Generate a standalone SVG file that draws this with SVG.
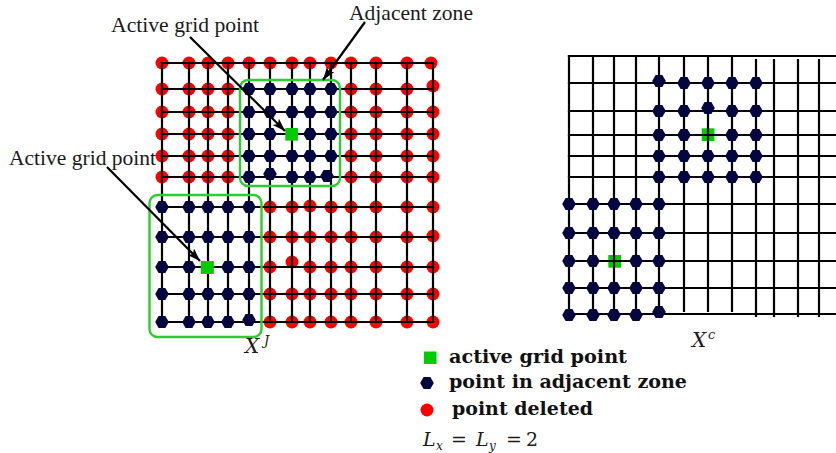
<svg xmlns="http://www.w3.org/2000/svg" xmlns:xlink="http://www.w3.org/1999/xlink" width="836" height="453" viewBox="0 0 836 453">
<style>
.grid line{stroke:#000;stroke-width:2.2;stroke-linecap:square}
.zone{fill:none;stroke:#2ecc2e;stroke-width:2.4}
.lbl{font-family:"Liberation Serif","DejaVu Serif",serif;font-size:21px;fill:#1a1a1a}
.leg{font-family:"DejaVu Serif","Liberation Serif",serif;font-size:19px;font-weight:bold;fill:#111}
.math{font-family:"DejaVu Serif","Liberation Serif",serif;font-style:italic;fill:#1a1a1a}
.arrow{stroke:#000;stroke-width:2.2;fill:none}
.act{fill:#00cc00}
</style>
<defs>
<circle id="r" r="6.5" fill="#ff0000"/>
<polygon id="h" points="6.8,0 3.4,5.9 -3.4,5.9 -6.8,0 -3.4,-5.9 3.4,-5.9" fill="#06063f"/>
<marker id="ah" markerUnits="userSpaceOnUse" markerWidth="14" markerHeight="10" refX="13" refY="4.5" orient="auto">
<path d="M0,0 L13,4.5 L0,9 L3,4.5 z" fill="#000"/>
</marker>
</defs>

<!-- Left grid X^J -->
<g id="left-deleted">
<use href="#r" x="162" y="63"/><use href="#r" x="189" y="63"/><use href="#r" x="208" y="63"/><use href="#r" x="228" y="63"/><use href="#r" x="249" y="63"/><use href="#r" x="270" y="63"/><use href="#r" x="292" y="63"/><use href="#r" x="310" y="63"/><use href="#r" x="331" y="63"/><use href="#r" x="351" y="63"/><use href="#r" x="376" y="63"/><use href="#r" x="407" y="63"/><use href="#r" x="431" y="63"/>
<use href="#r" x="162" y="89"/><use href="#r" x="189" y="89"/><use href="#r" x="208" y="89"/><use href="#r" x="228" y="89"/><use href="#r" x="351" y="89"/><use href="#r" x="376" y="89"/><use href="#r" x="407" y="89"/><use href="#r" x="433" y="86"/>
<use href="#r" x="162" y="112"/><use href="#r" x="189" y="112"/><use href="#r" x="208" y="112"/><use href="#r" x="228" y="112"/><use href="#r" x="351" y="112"/><use href="#r" x="376" y="112"/><use href="#r" x="407" y="112"/><use href="#r" x="433" y="112"/>
<use href="#r" x="162" y="134"/><use href="#r" x="189" y="134"/><use href="#r" x="208" y="134"/><use href="#r" x="228" y="134"/><use href="#r" x="351" y="134"/><use href="#r" x="376" y="134"/><use href="#r" x="407" y="134"/><use href="#r" x="433" y="134"/>
<use href="#r" x="162" y="156"/><use href="#r" x="189" y="156"/><use href="#r" x="208" y="156"/><use href="#r" x="228" y="156"/><use href="#r" x="351" y="156"/><use href="#r" x="376" y="156"/><use href="#r" x="407" y="156"/><use href="#r" x="433" y="156"/>
<use href="#r" x="162" y="177"/><use href="#r" x="189" y="177"/><use href="#r" x="208" y="177"/><use href="#r" x="228" y="177"/><use href="#r" x="351" y="177"/><use href="#r" x="376" y="177"/><use href="#r" x="407" y="177"/><use href="#r" x="433" y="177"/>
<use href="#r" x="270" y="207"/><use href="#r" x="292" y="207"/><use href="#r" x="310" y="206"/><use href="#r" x="331" y="207"/><use href="#r" x="351" y="207"/><use href="#r" x="376" y="207"/><use href="#r" x="407" y="207"/><use href="#r" x="433" y="207"/>
<use href="#r" x="270" y="237"/><use href="#r" x="292" y="237"/><use href="#r" x="310" y="237"/><use href="#r" x="331" y="237"/><use href="#r" x="351" y="237"/><use href="#r" x="376" y="237"/><use href="#r" x="407" y="237"/><use href="#r" x="433" y="236"/>
<use href="#r" x="270" y="267"/><use href="#r" x="292" y="262"/><use href="#r" x="310" y="267"/><use href="#r" x="331" y="267"/><use href="#r" x="351" y="267"/><use href="#r" x="376" y="267"/><use href="#r" x="407" y="267"/><use href="#r" x="433" y="267"/>
<use href="#r" x="270" y="294"/><use href="#r" x="292" y="294"/><use href="#r" x="310" y="294"/><use href="#r" x="331" y="294"/><use href="#r" x="351" y="294"/><use href="#r" x="376" y="294"/><use href="#r" x="407" y="294"/><use href="#r" x="433" y="294"/>
<use href="#r" x="270" y="322"/><use href="#r" x="292" y="322"/><use href="#r" x="310" y="322"/><use href="#r" x="331" y="322"/><use href="#r" x="351" y="322"/><use href="#r" x="376" y="322"/><use href="#r" x="407" y="322"/><use href="#r" x="433" y="322"/>
</g>

<g id="left-grid" class="grid">
<line x1="162" y1="63" x2="433" y2="63"/><line x1="162" y1="89" x2="433" y2="89"/><line x1="162" y1="112" x2="433" y2="112"/><line x1="162" y1="134" x2="433" y2="134"/><line x1="162" y1="156" x2="433" y2="156"/><line x1="162" y1="177" x2="433" y2="177"/><line x1="162" y1="207" x2="433" y2="207"/><line x1="162" y1="237" x2="433" y2="237"/><line x1="162" y1="267" x2="433" y2="267"/><line x1="162" y1="294" x2="433" y2="294"/><line x1="162" y1="322" x2="433" y2="322"/>
<line x1="162" y1="63" x2="162" y2="322"/><line x1="189" y1="63" x2="189" y2="322"/><line x1="208" y1="63" x2="208" y2="322"/><line x1="228" y1="63" x2="228" y2="322"/><line x1="249" y1="63" x2="249" y2="322"/><line x1="270" y1="63" x2="270" y2="322"/><line x1="292" y1="63" x2="292" y2="322"/><line x1="310" y1="63" x2="310" y2="322"/><line x1="331" y1="63" x2="331" y2="322"/><line x1="351" y1="63" x2="351" y2="322"/><line x1="376" y1="63" x2="376" y2="322"/><line x1="407" y1="63" x2="407" y2="322"/><line x1="433" y1="63" x2="433" y2="322"/>
</g>

<g id="left-zone-top">
<rect class="zone" x="240" y="80" width="100" height="106" rx="8"/>
<use href="#h" x="249" y="89"/><use href="#h" x="270" y="89"/><use href="#h" x="292" y="89"/><use href="#h" x="310" y="89"/><use href="#h" x="331" y="89"/>
<use href="#h" x="249" y="112"/><use href="#h" x="270" y="112"/><use href="#h" x="292" y="112"/><use href="#h" x="310" y="112"/><use href="#h" x="331" y="112"/>
<use href="#h" x="249" y="134"/><use href="#h" x="270" y="134"/><use href="#h" x="310" y="134"/><use href="#h" x="331" y="134"/>
<use href="#h" x="249" y="156"/><use href="#h" x="270" y="156"/><use href="#h" x="292" y="156"/><use href="#h" x="310" y="156"/><use href="#h" x="331" y="156"/>
<use href="#h" x="249" y="177"/><use href="#h" x="270" y="174"/><use href="#h" x="292" y="177"/><use href="#h" x="310" y="177"/><use href="#h" x="327" y="176"/>
<rect class="act" x="285.3" y="128" width="12.6" height="12.6"/>
</g>

<g id="left-zone-bottom">
<rect class="zone" x="149.5" y="195" width="112" height="142" rx="8"/>
<use href="#h" x="162" y="207"/><use href="#h" x="189" y="207"/><use href="#h" x="208" y="207"/><use href="#h" x="228" y="207"/><use href="#h" x="249" y="207"/>
<use href="#h" x="162" y="237"/><use href="#h" x="189" y="237"/><use href="#h" x="208" y="237"/><use href="#h" x="228" y="237"/><use href="#h" x="249" y="237"/>
<use href="#h" x="162" y="267"/><use href="#h" x="189" y="267"/><use href="#h" x="228" y="267"/><use href="#h" x="249" y="267"/>
<use href="#h" x="162" y="294"/><use href="#h" x="189" y="294"/><use href="#h" x="208" y="294"/><use href="#h" x="228" y="294"/><use href="#h" x="249" y="294"/>
<use href="#h" x="162" y="322"/><use href="#h" x="189" y="322"/><use href="#h" x="208" y="322"/><use href="#h" x="228" y="322"/><use href="#h" x="249" y="320"/>
<rect class="act" x="200.8" y="261" width="13" height="13"/>
</g>

<g id="label-xj">
<text class="math" x="245" y="353" font-size="20">X</text>
<text class="math" x="264" y="345" font-size="13">J</text>
</g>

<!-- Right grid X^c -->
<g id="right-zone-top">
<rect class="act" x="701.7" y="128.3" width="12.7" height="12.7"/>
</g>
<g id="right-zone-bottom">
<rect class="act" x="608.3" y="255" width="12.7" height="12.7"/>
</g>

<g id="right-grid" class="grid">
<line x1="569" y1="56" x2="836" y2="56"/><line x1="569" y1="83" x2="836" y2="83"/><line x1="569" y1="111" x2="836" y2="111"/><line x1="569" y1="135" x2="836" y2="135"/><line x1="569" y1="156" x2="836" y2="156"/><line x1="569" y1="177" x2="836" y2="177"/><line x1="569" y1="204" x2="836" y2="204"/><line x1="569" y1="233" x2="836" y2="233"/><line x1="569" y1="261" x2="836" y2="261"/><line x1="569" y1="288" x2="836" y2="288"/><line x1="569" y1="314" x2="836" y2="314"/>
<line x1="569" y1="56" x2="569" y2="314"/><line x1="593" y1="56" x2="593" y2="314"/><line x1="614" y1="56" x2="614" y2="314"/><line x1="636" y1="56" x2="636" y2="314"/><line x1="659" y1="56" x2="659" y2="314"/>
<line x1="684" y1="56" x2="684" y2="311"/><line x1="708" y1="56" x2="708" y2="311"/><line x1="732" y1="56" x2="732" y2="311"/>
<line x1="756" y1="60" x2="756" y2="316"/><line x1="774" y1="60" x2="774" y2="316"/><line x1="798" y1="60" x2="798" y2="316"/><line x1="819" y1="60" x2="819" y2="316"/>
</g>

<g id="right-hex-top">
<use href="#h" x="659" y="81"/><use href="#h" x="684" y="83"/><use href="#h" x="708" y="83"/><use href="#h" x="732" y="83"/><use href="#h" x="756" y="83"/>
<use href="#h" x="659" y="111"/><use href="#h" x="684" y="111"/><use href="#h" x="708" y="108"/><use href="#h" x="732" y="111"/><use href="#h" x="756" y="111"/>
<use href="#h" x="659" y="135"/><use href="#h" x="684" y="135"/><use href="#h" x="732" y="135"/><use href="#h" x="756" y="135"/>
<use href="#h" x="659" y="156"/><use href="#h" x="684" y="156"/><use href="#h" x="708" y="156"/><use href="#h" x="732" y="156"/><use href="#h" x="756" y="156"/>
<use href="#h" x="659" y="177"/><use href="#h" x="684" y="177"/><use href="#h" x="708" y="177"/><use href="#h" x="732" y="177"/><use href="#h" x="756" y="177"/>
</g>
<g id="right-hex-bottom">
<use href="#h" x="569" y="204"/><use href="#h" x="593" y="204"/><use href="#h" x="614" y="204"/><use href="#h" x="636" y="204"/><use href="#h" x="659" y="204"/>
<use href="#h" x="569" y="233"/><use href="#h" x="593" y="233"/><use href="#h" x="614" y="233"/><use href="#h" x="636" y="233"/><use href="#h" x="659" y="233"/>
<use href="#h" x="569" y="261"/><use href="#h" x="593" y="261"/><use href="#h" x="636" y="261"/><use href="#h" x="659" y="261"/>
<use href="#h" x="569" y="288"/><use href="#h" x="593" y="288"/><use href="#h" x="614" y="288"/><use href="#h" x="636" y="288"/><use href="#h" x="659" y="288"/>
<use href="#h" x="569" y="315"/><use href="#h" x="593" y="315"/><use href="#h" x="614" y="315"/><use href="#h" x="636" y="315"/><use href="#h" x="659" y="312"/>
</g>

<g id="label-xc">
<text class="math" x="692" y="347" font-size="20">X</text>
<text class="math" x="708" y="339" font-size="13">c</text>
</g>

<!-- Annotation labels -->
<g id="label-active-top"><text class="lbl" x="111" y="32" textLength="148" lengthAdjust="spacingAndGlyphs">Active grid point</text></g>
<g id="label-adjacent"><text class="lbl" x="349" y="20" textLength="124" lengthAdjust="spacingAndGlyphs">Adjacent zone</text></g>
<g id="label-active-left"><text class="lbl" x="9" y="165" textLength="147" lengthAdjust="spacingAndGlyphs">Active grid point</text></g>

<g id="connectors">
<line class="arrow" x1="190" y1="37" x2="285" y2="131" marker-end="url(#ah)"/>
<line class="arrow" x1="365" y1="22" x2="323" y2="80" marker-end="url(#ah)"/>
<line class="arrow" x1="107" y1="167" x2="200" y2="261" marker-end="url(#ah)"/>
</g>

<!-- Legend -->
<g id="legend">
<rect class="act" x="424" y="351.5" width="12.5" height="12.5"/>
<text class="leg" x="449" y="363" textLength="178" lengthAdjust="spacingAndGlyphs">active grid point</text>
<use href="#h" x="427" y="383"/>
<text class="leg" x="449" y="388" textLength="238" lengthAdjust="spacingAndGlyphs">point in adjacent zone</text>
<use href="#r" x="427" y="410"/>
<text class="leg" x="452" y="415" textLength="141" lengthAdjust="spacingAndGlyphs">point deleted</text>
<text class="math" font-size="19"><tspan x="423" y="446">L</tspan><tspan x="436" y="450" font-size="12">x</tspan><tspan x="451" y="446" font-style="normal">=</tspan><tspan x="476" y="446">L</tspan><tspan x="489" y="450" font-size="12">y</tspan><tspan x="506" y="446" font-style="normal">=</tspan><tspan x="526" y="446" font-style="normal">2</tspan></text>
</g>
</svg>
